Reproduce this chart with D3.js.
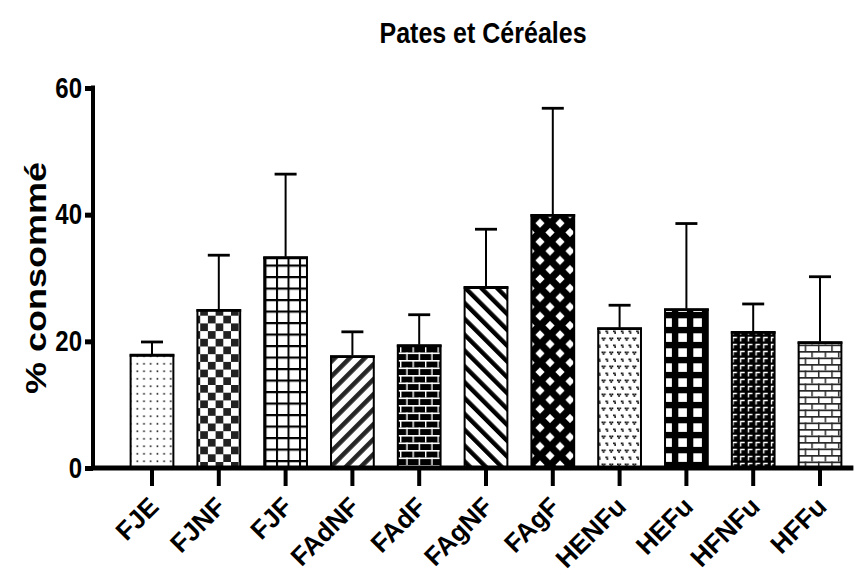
<!DOCTYPE html>
<html>
<head>
<meta charset="utf-8">
<script src="https://cdn.jsdelivr.net/npm/d3@7"></script>
<style>
  body { margin: 0; background: #fff; }
  text { font-family: "Liberation Sans", Arial, sans-serif; font-weight: bold; }
</style>
</head>
<body>
<div id="chart"></div>
<script>
var w = 861, h = 578;

// data
var groups = ["FJE", "FJNF", "FJF", "FAdNF", "FAdF", "FAgNF", "FAgF", "HENFu", "HEFu", "HFNFu", "HFFu"];
var means  = [17.8, 24.9, 33.2, 17.6, 19.3, 28.5, 39.9, 22.0, 25.0, 21.4, 19.8];
var sds    = [2.1, 8.7, 13.2, 3.9, 4.9, 9.2, 16.9, 3.7, 13.6, 4.5, 10.4];
var yTicks = [0, 20, 40, 60];

// fill pattern per bar, same order as groups
var fills = ["dots", "checker", "grid", "diagUp", "brickDark", "diagDown", "diamonds", "hearts", "bigGrid", "corners", "brickLight"];

// the original export is stretched vertically a bit
var stretch = 1.2;

var svg = d3.select("#chart").append("svg")
  .attr("width", w)
  .attr("height", h);

var y = d3.scaleLinear()
  .domain([0, 60])
  .range([468, 88]);

var x = d3.scaleBand()
  .domain(groups)
  .range([118.6, 853.4])
  .paddingInner(0.36)
  .paddingOuter(0.18);

var axisX = 93;

// ---- patterns ----
var defs = svg.append("defs");

function pat(id, pw, ph, tr) {
  var p = defs.append("pattern")
    .attr("id", id)
    .attr("patternUnits", "userSpaceOnUse")
    .attr("width", pw)
    .attr("height", ph);
  if (tr) p.attr("patternTransform", tr);
  return p;
}

var p;
p = pat("dots", 6.7, 7.5);
p.append("rect").attr("width", 6.7).attr("height", 7.5).attr("fill", "#fff");
p.append("rect").attr("x", 2.5).attr("y", 3).attr("width", 1.6).attr("height", 1.6).attr("fill", "#111");

p = pat("checker", 15.4, 15.4);
p.append("rect").attr("width", 15.4).attr("height", 15.4).attr("fill", "#fff");
p.append("rect").attr("width", 7.7).attr("height", 7.7).attr("fill", "#222");
p.append("rect").attr("x", 7.7).attr("y", 7.7).attr("width", 7.7).attr("height", 7.7).attr("fill", "#222");

p = pat("grid", 11.5, 11.5);
p.append("rect").attr("width", 11.5).attr("height", 11.5).attr("fill", "#fff");
p.append("rect").attr("width", 11.5).attr("height", 2.2).attr("fill", "#000");
p.append("rect").attr("width", 2).attr("height", 11.5).attr("fill", "#000");

p = pat("diagUp", 10.6, 10.6, "rotate(45)");
p.append("rect").attr("width", 10.6).attr("height", 10.6).attr("fill", "#fff");
p.append("rect").attr("width", 4.6).attr("height", 10.6).attr("fill", "#262626");

p = pat("diagDown", 11.2, 11.2, "rotate(-45)");
p.append("rect").attr("width", 11.2).attr("height", 11.2).attr("fill", "#fff");
p.append("rect").attr("width", 4.4).attr("height", 11.2).attr("fill", "#000");

p = pat("brickDark", 12.5, 15);
p.append("rect").attr("width", 12.5).attr("height", 15).attr("fill", "#000");
p.append("rect").attr("y", 0).attr("width", 12.5).attr("height", 1.6).attr("fill", "#fff");
p.append("rect").attr("y", 7.5).attr("width", 12.5).attr("height", 1.6).attr("fill", "#fff");
p.append("rect").attr("x", 0).attr("y", 0).attr("width", 1.4).attr("height", 7.5).attr("fill", "#fff");
p.append("rect").attr("x", 6.25).attr("y", 7.5).attr("width", 1.4).attr("height", 7.5).attr("fill", "#fff");

p = pat("brickLight", 13.3, 13);
p.append("rect").attr("width", 13.3).attr("height", 13).attr("fill", "#fff");
p.append("rect").attr("y", 0).attr("width", 13.3).attr("height", 1.7).attr("fill", "#2a2a2a");
p.append("rect").attr("y", 6.5).attr("width", 13.3).attr("height", 1.7).attr("fill", "#2a2a2a");
p.append("rect").attr("x", 0).attr("y", 0).attr("width", 1.5).attr("height", 6.5).attr("fill", "#2a2a2a");
p.append("rect").attr("x", 6.65).attr("y", 6.5).attr("width", 1.5).attr("height", 6.5).attr("fill", "#2a2a2a");

p = pat("diamonds", 20, 18.6);
p.append("rect").attr("width", 20).attr("height", 18.6).attr("fill", "#000");
[[0, 0], [20, 0], [0, 18.6], [20, 18.6], [10, 9.3]].forEach(function(c) {
  p.append("path")
    .attr("d", "M" + c[0] + "," + (c[1] - 4.6) + "L" + (c[0] + 4.6) + "," + c[1] +
               "L" + c[0] + "," + (c[1] + 4.6) + "L" + (c[0] - 4.6) + "," + c[1] + "Z")
    .attr("fill", "#fff");
});

p = pat("hearts", 7.7, 14);
p.append("rect").attr("width", 7.7).attr("height", 14).attr("fill", "#fff");
[[1, 1.5], [4.85, 8.5]].forEach(function(c) {
  p.append("rect").attr("x", c[0]).attr("y", c[1]).attr("width", 1.7).attr("height", 1.7).attr("fill", "#000");
  p.append("rect").attr("x", c[0] + 2.3).attr("y", c[1]).attr("width", 1.7).attr("height", 1.7).attr("fill", "#000");
  p.append("rect").attr("x", c[0] + 1.15).attr("y", c[1] + 1.7).attr("width", 1.7).attr("height", 1.6).attr("fill", "#000");
});

p = pat("bigGrid", 15, 15);
p.append("rect").attr("width", 15).attr("height", 15).attr("fill", "#000");
p.append("rect").attr("x", 3.3).attr("y", 3.3).attr("width", 8.6).attr("height", 8.6).attr("fill", "#fff");

p = pat("corners", 7.7, 7);
p.append("rect").attr("width", 7.7).attr("height", 7).attr("fill", "#000");
p.append("path").attr("d", "M1.5,5.5V1.5H5.5").attr("fill", "none").attr("stroke", "#fff").attr("stroke-width", 1.4);

// ---- bars ----
var bars = svg.append("g");

bars.selectAll("rect.bar")
  .data(groups)
  .enter().append("rect")
  .attr("class", "bar")
  .attr("x", function(d) { return x(d); })
  .attr("y", function(d, i) { return y(means[i]); })
  .attr("width", x.bandwidth())
  .attr("height", function(d, i) { return y(0) - y(means[i]); })
  .attr("fill", function(d, i) { return "url(#" + fills[i] + ")"; })
  .attr("stroke", "#000")
  .attr("stroke-width", 2);

// thicker top edge (horizontal strokes look heavier in the original)
bars.selectAll("line.top")
  .data(groups)
  .enter().append("line")
  .attr("class", "top")
  .attr("x1", function(d) { return x(d) - 1; })
  .attr("x2", function(d) { return x(d) + x.bandwidth() + 1; })
  .attr("y1", function(d, i) { return y(means[i]); })
  .attr("y2", function(d, i) { return y(means[i]); })
  .attr("stroke", "#000")
  .attr("stroke-width", 2.8);

// error bars (upper only)
var capW = 22;
bars.selectAll("line.err")
  .data(groups)
  .enter().append("line")
  .attr("class", "err")
  .attr("x1", function(d) { return x(d) + x.bandwidth() / 2; })
  .attr("x2", function(d) { return x(d) + x.bandwidth() / 2; })
  .attr("y1", function(d, i) { return y(means[i]) - 1; })
  .attr("y2", function(d, i) { return y(means[i] + sds[i]); })
  .attr("stroke", "#000")
  .attr("stroke-width", 2);

bars.selectAll("line.cap")
  .data(groups)
  .enter().append("line")
  .attr("class", "cap")
  .attr("x1", function(d) { return x(d) + x.bandwidth() / 2 - capW / 2; })
  .attr("x2", function(d) { return x(d) + x.bandwidth() / 2 + capW / 2; })
  .attr("y1", function(d, i) { return y(means[i] + sds[i]); })
  .attr("y2", function(d, i) { return y(means[i] + sds[i]); })
  .attr("stroke", "#000")
  .attr("stroke-width", 2.8);

// ---- axes ----
var yAxis = svg.append("g")
  .attr("transform", "translate(" + axisX + ",0)")
  .call(d3.axisLeft(y).tickValues(yTicks).tickSize(8).tickSizeOuter(0).tickPadding(3));

yAxis.select(".domain").attr("stroke-width", 4).attr("d", "M0," + (y(0) + 2) + "V" + (y(60) - 2.5));
yAxis.selectAll(".tick line").attr("stroke-width", 5);
yAxis.selectAll(".tick text")
  .attr("transform", "scale(1," + stretch + ")")
  .style("font-size", "24px")
  .style("font-weight", "bold")
  .attr("fill", "#000");

var xAxis = svg.append("g")
  .attr("transform", "translate(0," + y(0) + ")")
  .call(d3.axisBottom(x).tickSize(18).tickFormat(""));

xAxis.select(".domain").remove();
xAxis.selectAll(".tick line").attr("stroke-width", 4);

svg.append("line")
  .attr("x1", axisX - 2)
  .attr("x2", x.range()[1])
  .attr("y1", y(0))
  .attr("y2", y(0))
  .attr("stroke", "#000")
  .attr("stroke-width", 5);

// rotated category labels
svg.append("g").selectAll("text")
  .data(groups)
  .enter().append("text")
  .attr("transform", function(d) {
    return "translate(" + (x(d) + x.bandwidth() / 2 - 5) + "," + (y(0) + 27) + ") rotate(-45)";
  })
  .attr("text-anchor", "end")
  .attr("dy", "0.72em")
  .style("font-size", "26px")
  .text(function(d) { return d; });

// titles
svg.append("text")
  .attr("transform", "translate(483,43) scale(1," + stretch + ")")
  .attr("text-anchor", "middle")
  .style("font-size", "25px")
  .text("Pates et Céréales");

svg.append("text")
  .attr("transform", "translate(46," + ((y(0) + y(60)) / 2) + ") scale(1," + stretch + ") rotate(-90)")
  .attr("text-anchor", "middle")
  .style("font-size", "30px")
  .text("% consommé");
</script>
</body>
</html>
